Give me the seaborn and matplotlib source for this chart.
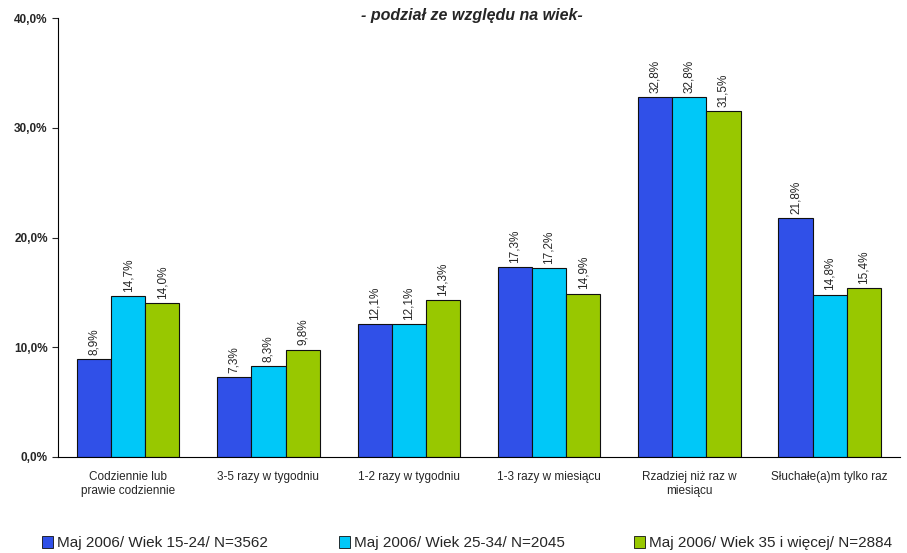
import numpy as np
import pandas as pd
import seaborn as sns
from matplotlib import pyplot as plt
from matplotlib.patches import Patch

categories = ["Codziennie lub\nprawie codziennie", "3-5 razy w tygodniu", "1-2 razy w tygodniu",
              "1-3 razy w miesiącu", "Rzadziej niż raz w\nmiesiącu", "Słuchałe(a)m tylko raz"]
series = ["Maj 2006/ Wiek 15-24/ N=3562", "Maj 2006/ Wiek 25-34/ N=2045",
          "Maj 2006/ Wiek 35 i więcej/ N=2884"]
wiek_15_24 = [8.9, 7.3, 12.1, 17.3, 32.8, 21.8]
wiek_25_34 = [14.7, 8.3, 12.1, 17.2, 32.8, 14.8]
wiek_35_plus = [14.0, 9.8, 14.3, 14.9, 31.5, 15.4]
colors = ["#3050e8", "#00c8f8", "#98c800"]

rows = []
for name, vals in zip(series, [wiek_15_24, wiek_25_34, wiek_35_plus]):
    for cat, v in zip(categories, vals):
        rows.append({"kategoria": cat, "seria": name, "wartosc": v})
df = pd.DataFrame(rows)

sns.set_style("white")
plt.rcParams["font.family"] = ["Liberation Sans", "DejaVu Sans"]

fig = plt.figure(figsize=(9.07, 5.53), dpi=100)
ax = fig.add_axes([0.064, 0.1736, 0.928, 0.7934])

sns.barplot(data=df, x="kategoria", y="wartosc", hue="seria", palette=colors,
            width=0.73, edgecolor="#101010", linewidth=0.8, saturation=1,
            legend=False, ax=ax)

for cont in ax.containers:
    labels = [f"{v:.1f}%".replace(".", ",") for v in cont.datavalues]
    ax.bar_label(cont, labels=labels, rotation=90, padding=3, fontsize=8.5)

ax.set_ylim(0, 40)
ax.set_yticks([0, 10, 20, 30, 40])
ax.set_yticklabels([f"{t:.1f}%".replace(".", ",") for t in [0, 10, 20, 30, 40]],
                   fontsize=8.5, fontweight="bold")
ax.tick_params(axis="y", direction="out", length=4, width=0.8, left=True)
ax.tick_params(axis="x", length=0, labelsize=8.5, pad=10)
ax.set_xlabel("")
ax.set_ylabel("")
ax.set_xlim(-0.5, 5.5)
for s in ["top", "right"]:
    ax.spines[s].set_visible(False)
ax.spines["left"].set_color("black")
ax.spines["bottom"].set_color("black")

fig.text(0.52, 0.972, "- podział ze względu na wiek-", ha="center", va="center",
         fontsize=11.5, fontweight="bold", fontstyle="italic")

# three separate legend entries, placed like the original
for c, name, x in zip(colors, series, [42, 339, 634]):
    lg = fig.legend([Patch(facecolor=c, edgecolor="#101010", linewidth=0.6)], [name],
                    loc="center left", bbox_to_anchor=(x / 907, 1 - 543 / 553),
                    frameon=False, fontsize=11, handlelength=0.7, handleheight=0.9,
                    handletextpad=0.3, borderpad=0, borderaxespad=0)

fig.savefig("out.png", dpi=100)
